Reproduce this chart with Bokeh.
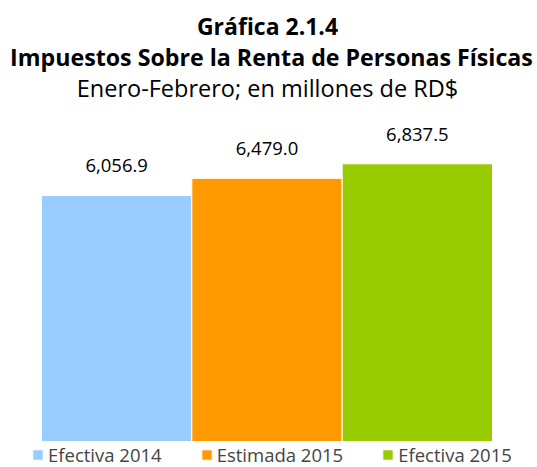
from bokeh.plotting import figure
from bokeh.models import Range1d, Label, Legend, LegendItem, ColumnDataSource, LabelSet
from bokeh.core.properties import value
from bokeh.embed import file_html
from bokeh.resources import INLINE

series = ["Efectiva 2014", "Estimada 2015", "Efectiva 2015"]
values = [6056.9, 6479.0, 6837.5]
labels = ["6,056.9", "6,479.0", "6,837.5"]
colors = ["#99CCFF", "#FF9900", "#99CC00"]
positions = [0.5, 1.5, 2.5]
title_lines = ["Gráfica 2.1.4", "Impuestos Sobre la Renta de Personas Físicas",
               "Enero-Febrero; en millones de RD$"]

FONT = "Open Sans"

p = figure(width=537, height=467, output_backend="svg", toolbar_location=None,
           x_range=Range1d(-0.2727, 3.2993), y_range=Range1d(-640, 10857),
           min_border_left=0, min_border_right=0, min_border_top=0, min_border_bottom=0)
p.xaxis.visible = False
p.yaxis.visible = False
p.xgrid.visible = False
p.ygrid.visible = False
p.outline_line_color = None

src = ColumnDataSource(dict(x=positions, top=values, label=labels))
items = []
for i in range(3):
    r = p.vbar(x=[positions[i]], top=[values[i]], width=1.0, bottom=0,
               fill_color=colors[i], line_color="white", line_width=1)
    items.append(LegendItem(label=series[i], renderers=[r]))

ls = LabelSet(x="x", y="top", text="label", source=src, text_align="center",
              text_baseline="alphabetic", y_offset=23, text_font=value(FONT),
              text_font_size=value("18.5px"), text_color="black")
p.add_layout(ls)

# title block (screen units, measured from the bottom-left of the canvas)
title_specs = [(267, 442, "23px", "bold"), (271, 411, "23.2px", "bold"), (267, 380, "23.5px", "normal")]
for txt, (tx, ty, fs, st) in zip(title_lines, title_specs):
    p.add_layout(Label(x=tx, y=ty, x_units="screen", y_units="screen", text=txt,
                       text_align="center", text_baseline="alphabetic", text_font=FONT,
                       text_font_size=fs, text_font_style=st, text_color="black"))

legend = Legend(items=items, orientation="horizontal", location=(31, 0),
                label_text_font=FONT, label_text_font_size="18.5px", label_height=16,
                glyph_width=13, glyph_height=13, label_standoff=4, spacing=38,
                padding=0, margin=0, border_line_alpha=0, background_fill_alpha=0)
p.add_layout(legend)

open("out.html", "w").write(file_html(p, INLINE))
